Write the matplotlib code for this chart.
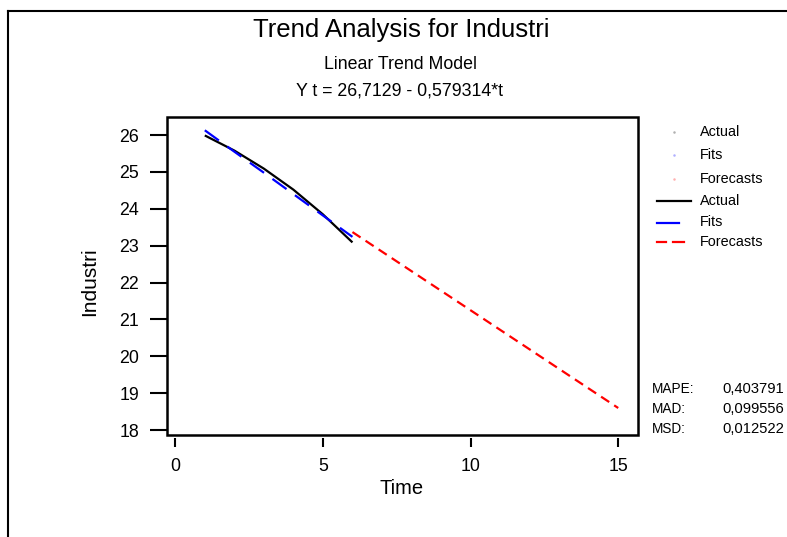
import matplotlib
matplotlib.use("Agg")
import matplotlib.pyplot as plt
from matplotlib.lines import Line2D
from matplotlib.patches import Rectangle

plt.rcParams['font.family'] = ['Liberation Sans', 'DejaVu Sans']
plt.rcParams['lines.scale_dashes'] = False

# ---- data ----
t_actual = [1, 2, 3, 4, 5, 6]
actual = [25.99, 25.58, 25.09, 24.52, 23.85, 23.09]
fits = [26.13, 25.55, 24.98, 24.40, 23.82, 23.24]
t_forecast = [6, 7, 8, 9, 10, 11, 12, 13, 14, 15]
forecasts = [23.37, 22.84, 22.31, 21.78, 21.25, 20.72, 20.19, 19.66, 19.13, 18.60]
x_ticks = [0, 5, 10, 15]
y_ticks = [18, 19, 20, 21, 22, 23, 24, 25, 26]
title = "Trend Analysis for Industri"
subtitle = "Linear Trend Model"
equation = "Y t = 26,7129 - 0,579314*t"
stat_names = ["MAPE:", "MAD:", "MSD:"]
stat_values = ["0,403791", "0,099556", "0,012522"]
legend_labels = ["Actual", "Fits", "Forecasts"]

W, H = 787, 537
fig = plt.figure(figsize=(W / 100, H / 100), dpi=100)
fig.patch.set_facecolor('white')

def fx(px):
    return px / W

def fy(py):
    return 1 - py / H

ax_l, ax_r, ax_t, ax_b = 167.3, 637.7, 117.0, 435.3
ax = fig.add_axes([fx(ax_l), fy(ax_b), (ax_r - ax_l) / W, (ax_b - ax_t) / H])

ax.plot(t_actual, actual, color='black', lw=1.6, solid_capstyle='butt')
ax.plot(t_actual, fits, color='#0000ff', lw=1.6, dashes=(12.5, 7.5))
ax.plot(t_forecast, forecasts, color='#ff0000', lw=1.6, dashes=(7, 4.3))

ax.set_xlim(-0.27, 15.66)
ax.set_ylim(17.86, 26.49)
ax.set_xticks(x_ticks)
ax.set_yticks(y_ticks)

for s in ax.spines.values():
    s.set_visible(False)
ax.spines['bottom'].set_position(('outward', 1.6))
ax.add_patch(Rectangle((0, 0), 1, 1, transform=ax.transAxes, fill=False,
                       lw=1.8, edgecolor='black', clip_on=False, zorder=5))
ax.tick_params(axis='y', length=12.2, width=1.5, pad=8, labelsize=12.8, colors='black')
ax.tick_params(axis='x', length=6.5, width=1.5, pad=8, labelsize=12.8, colors='black')

# titles
fig.text(fx(401), fy(37), title, ha='center', va='baseline', fontsize=18.5)
fig.text(fx(401), fy(69), subtitle, ha='center', va='baseline', fontsize=12.8)
fig.text(fx(400), fy(95), equation, ha='center', va='baseline', fontsize=12.8)

# axis labels
fig.text(fx(402), fy(489), "Time", ha='center', va='center', fontsize=14.5)
fig.text(fx(90), fy(281.5), "Industri", ha='center', va='center', rotation=90, fontsize=15)

# legend
dot_rows = [131.7, 155.0, 179.3]
dot_colors = ['#b0b0b0', '#b0b0ff', '#ffb0b0']
for y, c, lab in zip(dot_rows, dot_colors, legend_labels):
    fig.add_artist(Line2D([fx(674.3)], [fy(y)], marker='o', markersize=0.8,
                          color=c, linestyle='none'))
    fig.text(fx(700), fy(y), lab, ha='left', va='center', fontsize=10.4)

line_rows = [201.0, 222.5, 242.0]
fig.add_artist(Line2D([fx(656.7), fx(690.7)], [fy(line_rows[0])] * 2,
                      color='black', lw=1.6))
fig.add_artist(Line2D([fx(656.7), fx(679)], [fy(line_rows[1])] * 2,
                      color='#0000ff', lw=1.6))
fig.add_artist(Line2D([fx(657.3), fx(666)], [fy(line_rows[2])] * 2,
                      color='#ff0000', lw=1.6))
fig.add_artist(Line2D([fx(673.3), fx(684.3)], [fy(line_rows[2])] * 2,
                      color='#ff0000', lw=1.6))
for y, lab in zip(line_rows, legend_labels):
    fig.text(fx(700), fy(y), lab, ha='left', va='center', fontsize=10.4)

# accuracy measures
stat_rows = [389, 409, 429]
for y, n, v in zip(stat_rows, stat_names, stat_values):
    fig.text(fx(651.5), fy(y), n, ha='left', va='center', fontsize=9.8)
    fig.text(fx(722), fy(y), v, ha='left', va='center', fontsize=10.6)

# outer frame lines
fig.add_artist(Line2D([fx(7.5), 1.0], [fy(10.5), fy(10.5)], color='black', lw=1.5))
fig.add_artist(Line2D([fx(7.5), fx(7.5)], [fy(10.5), 0.0], color='black', lw=1.5))

fig.savefig("out.png", dpi=100, facecolor='white')
